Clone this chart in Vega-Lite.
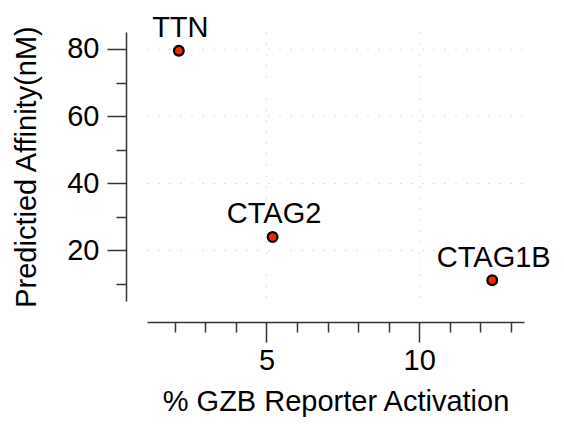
{
  "$schema": "https://vega.github.io/schema/vega-lite/v6.json",
  "width": 377,
  "height": 269,
  "autosize": "none",
  "padding": {"left": 147, "top": 32, "right": 40, "bottom": 123},
  "background": "white",
  "config": {
    "view": {"stroke": null},
    "font": "Liberation Sans",
    "axis": {
      "domainColor": "#333333",
      "domainWidth": 1.5,
      "tickColor": "#333333",
      "tickWidth": 1.5,
      "labelColor": "black",
      "titleColor": "black",
      "labelFont": "Liberation Sans",
      "titleFont": "Liberation Sans",
      "labelFontSize": 29,
      "titleFontSize": 29,
      "titleFontWeight": "normal",
      "gridColor": "#bbbbbb",
      "gridDash": [1, 10],
      "gridWidth": 1
    }
  },
  "data": {
    "values": [
      {"gene": "TTN", "activation": 2.13, "affinity": 79.5},
      {"gene": "CTAG2", "activation": 5.2, "affinity": 23.9},
      {"gene": "CTAG1B", "activation": 12.39, "affinity": 11.0}
    ]
  },
  "layer": [
    {
      "mark": {"type": "point", "shape": "circle", "filled": true, "fill": "#ff2200", "stroke": "black", "strokeWidth": 2.2, "size": 95, "opacity": 1},
      "encoding": {
        "x": {
          "field": "activation", "type": "quantitative",
          "scale": {"domain": [1.088, 13.43], "nice": false, "zero": false},
          "axis": {
            "title": "% GZB Reporter Activation",
            "values": [2, 3, 4, 5, 6, 7, 8, 9, 10, 11, 12, 13],
            "tickCount": 50,
            "format": "d",
            "labelExpr": "datum.value % 5 === 0 ? datum.label : ''",
            "tickSize": {"condition": {"test": "datum.value % 5 === 0", "value": 20}, "value": 10},
            "gridOpacity": {"condition": {"test": "datum.value % 5 === 0", "value": 1}, "value": 0},
            "grid": true,
            "offset": 21,
            "labelPadding": 4,
            "titlePadding": 12,
            "labelFlush": false,
            "labelOverlap": false
          }
        },
        "y": {
          "field": "affinity", "type": "quantitative",
          "scale": {"domain": [4.8, 85.07], "nice": false, "zero": false},
          "axis": {
            "title": "Predictied Affinity(nM)",
            "values": [10, 20, 30, 40, 50, 60, 70, 80],
            "tickCount": 50,
            "format": "d",
            "labelExpr": "datum.value % 20 === 0 ? datum.label : ''",
            "tickSize": {"condition": {"test": "datum.value % 20 === 0", "value": 19}, "value": 10},
            "gridOpacity": {"condition": {"test": "datum.value % 20 === 0", "value": 1}, "value": 0},
            "grid": true,
            "offset": 21,
            "labelPadding": 8,
            "titlePadding": 25,
            "labelFlush": false,
            "labelOverlap": false
          }
        }
      }
    },
    {
      "mark": {"type": "text", "font": "Liberation Sans", "fontSize": 29, "color": "black", "baseline": "alphabetic", "align": "center", "dy": -13.5, "dx": 1.5},
      "encoding": {
        "x": {"field": "activation", "type": "quantitative"},
        "y": {"field": "affinity", "type": "quantitative"},
        "text": {"field": "gene"}
      }
    }
  ]
}
